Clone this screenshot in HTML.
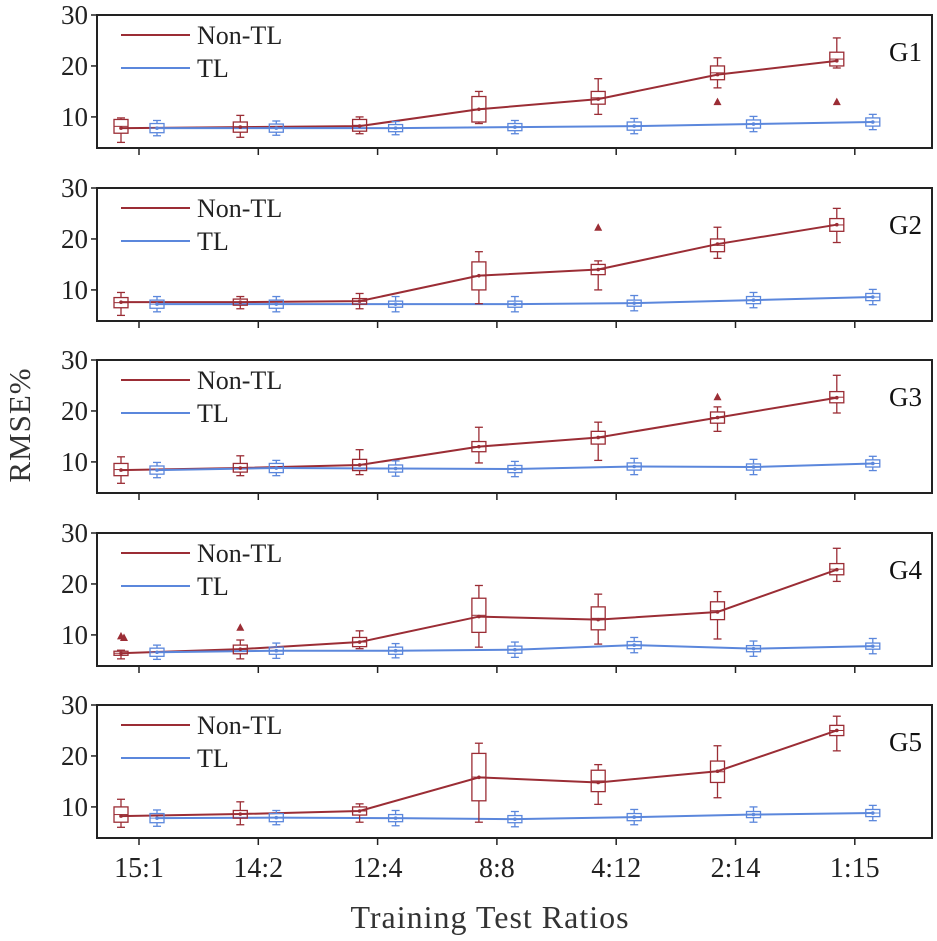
<!DOCTYPE html>
<html><head><meta charset="utf-8"><style>
body{margin:0;background:#fff}
svg{display:block;font-family:"Liberation Serif",serif}
</style></head><body>
<svg id="chart" width="937" height="941" viewBox="0 0 937 941" xmlns="http://www.w3.org/2000/svg">
<text x="0" y="0" transform="translate(30,425) rotate(-90)" text-anchor="middle" font-size="31" fill="#333" letter-spacing="1">RMSE%</text>
<text x="490" y="928" text-anchor="middle" font-size="32" fill="#333" letter-spacing="1">Training Test Ratios</text>
</svg>
<script>
const categories=["15:1","14:2","12:4","8:8","4:12","2:14","1:15"];
const groups=["G1","G2","G3","G4","G5"];
const yTicks=[10,20,30];
const nonMean=[[7.8,8.0,8.2,11.5,13.5,18.3,21],[7.6,7.6,7.8,12.8,14,19,22.8],[8.4,8.8,9.4,13,14.8,18.7,22.6],[6.4,7.2,8.6,13.6,13,14.5,22.8],[8.2,8.6,9.2,15.8,14.8,17,25]];
const nonQ1=[[6.8,7,7.2,9,12.5,17.3,20],[6.5,7,7.2,10,13,17.5,21.5],[7.3,8,8.3,12,13.5,17.6,21.6],[6,6.3,7.7,10.5,11,13,21.8],[7,7.8,8.4,11.2,13,14.8,24]];
const nonQ3=[[9.5,9,9.5,14,15,20,22.7],[8.5,8.2,8.3,15.5,15,20,24],[9.7,9.7,10.5,14,16,19.8,23.8],[6.8,8,9.5,17.2,15.5,16.5,24],[10,9.3,10,20.5,17.2,19,26]];
const nonMin=[[5,6,6.7,8.7,10.5,15.7,19.6],[5,6.3,6.3,7.3,10,16.2,19.3],[5.8,7.3,7.5,9.8,10.3,16,19.6],[5.3,5.3,7.3,7.6,8.2,9.2,20.5],[6,6.5,7,7,10.5,11.8,21]];
const nonMax=[[9.8,10.3,10,15,17.5,21.6,25.5],[9.5,8.7,9.3,17.5,15.7,22.3,26],[11,11.2,12.4,16.8,17.8,20.8,27],[7,9,10.8,19.7,18,18.5,27],[11.5,11,10.6,22.5,18.3,22,27.8]];
const nonOutliers=[[[5,13],[6,13]],[[4,22.3]],[[5,22.8]],[[0,9.8],[0,9.5],[1,11.5]],[]];
const tlMean=[[7.8,7.8,7.8,8,8.2,8.6,9],[7.2,7.2,7.2,7.2,7.4,8,8.6],[8.4,8.8,8.7,8.6,9.1,9,9.7],[6.6,6.9,6.9,7.1,8,7.3,7.8],[7.8,7.9,7.8,7.6,8,8.5,8.8]];
const tlSpread=[[0.9,0.8,0.7,0.7,0.8,0.8,0.8],[0.8,0.8,0.6,0.6,0.6,0.7,0.7],[0.8,0.9,0.7,0.7,0.7,0.6,0.7],[0.8,0.7,0.7,0.7,0.7,0.6,0.6],[0.9,0.8,0.7,0.7,0.7,0.6,0.7]];
const tlWhisker=[[1.5,1.4,1.3,1.3,1.5,1.5,1.5],[1.5,1.5,1.5,1.5,1.5,1.5,1.5],[1.5,1.5,1.5,1.5,1.6,1.5,1.4],[1.4,1.5,1.4,1.5,1.5,1.5,1.5],[1.6,1.4,1.5,1.5,1.5,1.5,1.5]];

const NS="http://www.w3.org/2000/svg";
const svg=document.getElementById('chart');
const X0=97,X1=932,PH=133,tops=[15,188,360,533,705];
const RED="#9b2d35",BLUE="#5b87dc";
function xPos(i){return 139+i*119.3;}
function yPos(p,v){return tops[p]+(30-v)*(PH/26.1);}
function mk(tag,attrs,parent){const e=document.createElementNS(NS,tag);for(const k in attrs)e.setAttribute(k,attrs[k]);(parent||svg).appendChild(e);return e;}
function drawBox(g,p,x,mean,q1,q3,mn,mx,col){
  const w=7;
  mk('line',{x1:x,x2:x,y1:yPos(p,mx),y2:yPos(p,q3),stroke:col,'stroke-width':1.3},g);
  mk('line',{x1:x,x2:x,y1:yPos(p,q1),y2:yPos(p,mn),stroke:col,'stroke-width':1.3},g);
  mk('line',{x1:x-4,x2:x+4,y1:yPos(p,mx),y2:yPos(p,mx),stroke:col,'stroke-width':1.3},g);
  mk('line',{x1:x-4,x2:x+4,y1:yPos(p,mn),y2:yPos(p,mn),stroke:col,'stroke-width':1.3},g);
  mk('rect',{x:x-w,y:yPos(p,q3),width:2*w,height:yPos(p,q1)-yPos(p,q3),fill:'none',stroke:col,'stroke-width':1.3},g);
  mk('line',{x1:x-w,x2:x+w,y1:yPos(p,(q1+q3)/2),y2:yPos(p,(q1+q3)/2),stroke:col,'stroke-width':1},g);
  mk('circle',{cx:x,cy:yPos(p,mean),r:1.8,fill:col},g);
}
for(let p=0;p<5;p++){
  const panel=mk('g',{});
  
  
  const t=tops[p];
  const frame=mk('rect',{x:X0,y:t,width:X1-X0,height:PH,fill:'none',stroke:'#222','stroke-width':2},panel);
  
  
  yTicks.forEach(v=>{
    const y=yPos(p,v);
    mk('line',{x1:X0-6,x2:X0,y1:y,y2:y,stroke:'#222','stroke-width':1.5},panel);
    const tl=mk('text',{x:X0-9,y:y+9,'text-anchor':'end','font-size':27,fill:'#222'},panel);
    tl.textContent=v;
    
    
  });
  categories.forEach((c,i)=>{
    mk('line',{x1:xPos(i),x2:xPos(i),y1:t+PH,y2:t+PH+7,stroke:'#222','stroke-width':1.5},panel);
  });
  const np=categories.map((c,i)=>(xPos(i)-18)+','+yPos(p,nonMean[p][i])).join(' ');
  const tp=categories.map((c,i)=>(xPos(i)+18)+','+yPos(p,tlMean[p][i])).join(' ');
  const l1=mk('polyline',{points:np,fill:'none',stroke:RED,'stroke-width':2},panel);
  
  
  const l2=mk('polyline',{points:tp,fill:'none',stroke:BLUE,'stroke-width':2},panel);
  
  
  categories.forEach((c,i)=>{
    const b1=mk('g',{},panel);
    
    
    drawBox(b1,p,xPos(i)-18,nonMean[p][i],nonQ1[p][i],nonQ3[p][i],nonMin[p][i],nonMax[p][i],RED);
    const b2=mk('g',{},panel);
    
    
    const m=tlMean[p][i],s=tlSpread[p][i],w=tlWhisker[p][i];
    drawBox(b2,p,xPos(i)+18,m,m-s,m+s,m-w,m+w,BLUE);
  });
  nonOutliers[p].forEach(o=>{
    const x=xPos(o[0])-18+(p===3&&o[0]===0&&o[1]<9.7?3:0),y=yPos(p,o[1]);
    const tr=mk('polygon',{points:`${x-4},${y+3.5} ${x+4},${y+3.5} ${x},${y-4}`,fill:RED},panel);
    
    
  });
  const lg=mk('g',{},panel);
  
  
  mk('line',{x1:121,x2:190,y1:t+20,y2:t+20,stroke:RED,'stroke-width':2},lg);
  const a=mk('text',{x:197,y:t+29,'font-size':26,fill:'#222'},lg);a.textContent='Non-TL';
  mk('line',{x1:121,x2:190,y1:t+53,y2:t+53,stroke:BLUE,'stroke-width':2},lg);
  const b=mk('text',{x:197,y:t+62,'font-size':26,fill:'#222'},lg);b.textContent='TL';
  const gl=mk('text',{x:922,y:t+46,'text-anchor':'end','font-size':27,fill:'#111'},panel);
  gl.textContent=groups[p];
  
  
}
categories.forEach((c,i)=>{
  const tx=mk('text',{x:xPos(i),y:877,'text-anchor':'middle','font-size':28,fill:'#222'});
  tx.textContent=c;
  
  
});
</script>
</body></html>
